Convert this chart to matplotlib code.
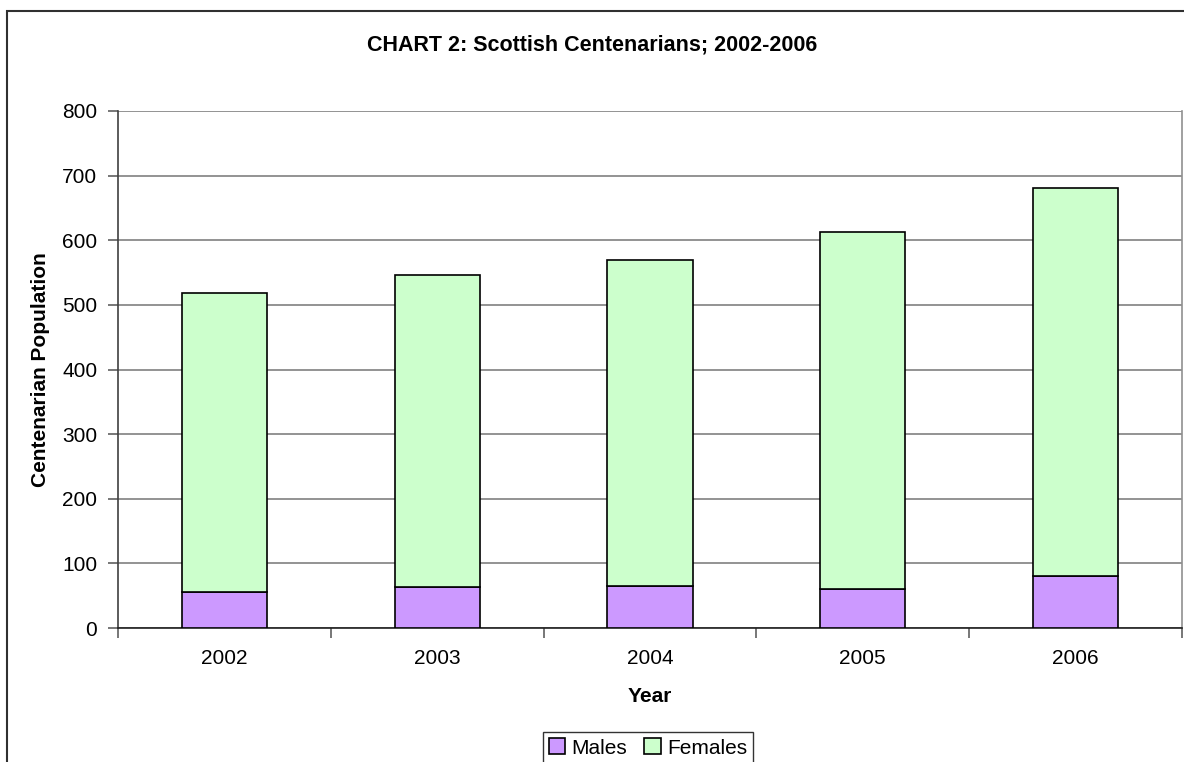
import matplotlib.pyplot as plt
import numpy as np
from matplotlib.patches import Rectangle

plt.rcParams['font.family'] = ['Liberation Sans', 'DejaVu Sans']

# Data
years = ['2002', '2003', '2004', '2005', '2006']
males = [56, 64, 65, 61, 80]
females = [462, 483, 505, 552, 601]

fig = plt.figure(figsize=(11.84, 7.62), dpi=100)
ax = fig.add_axes([118 / 1184, 134 / 762, 1064 / 1184, 517 / 762])

x = np.arange(len(years))
ax.bar(x, males, width=0.4, color='#CC99FF', edgecolor='black', linewidth=1.2,
       label='Males', zorder=3)
ax.bar(x, females, width=0.4, bottom=males, color='#CCFFCC', edgecolor='black',
       linewidth=1.2, label='Females', zorder=3)

ax.set_xlim(-0.5, len(years) - 0.5)
ax.set_ylim(0, 800)
ax.set_yticks(range(0, 801, 100))
ax.yaxis.grid(True, color='#808080', linewidth=1.2)
ax.set_axisbelow(True)

# category labels centred, tick marks on the category borders
ax.set_xticks(x)
ax.set_xticklabels(years)
ax.set_xticks(np.arange(-0.5, len(years)), minor=True)
ax.tick_params(axis='x', which='major', length=0, labelsize=15, pad=15)
ax.tick_params(axis='x', which='minor', length=7, width=1.2, color='#606060')
ax.tick_params(axis='y', length=7, width=1.2, color='#606060', labelsize=15, pad=8)

ax.spines['top'].set_visible(False)
ax.spines['right'].set_color('#909090')
ax.spines['left'].set_color('#404040')
ax.spines['bottom'].set_color('#202020')
for s in ax.spines.values():
    s.set_linewidth(1.2)

ax.set_xlabel('Year', fontsize=15, fontweight='bold', va='center')
ax.xaxis.set_label_coords(0.5, -69 / 517)
ax.set_ylabel('Centenarian Population', fontsize=15, fontweight='bold', va='center')
ax.yaxis.set_label_coords(-77 / 1064, 0.5)

fig.text(592 / 1184, 1 - 45 / 762, 'CHART 2: Scottish Centenarians; 2002-2006',
         ha='center', va='center', fontsize=15.5, fontweight='bold')

leg = fig.legend(loc='center', bbox_to_anchor=(648 / 1184, 1 - 748 / 762), ncol=2,
                 fontsize=15, frameon=True, fancybox=False, edgecolor='black',
                 handlelength=0.8, handleheight=0.8, handletextpad=0.3,
                 columnspacing=0.8, borderpad=0.3)
leg.get_frame().set_linewidth(1.0)

# outer chart frame
fig.patches.append(Rectangle((6.5 / 1184, -0.1), 1.2, 1 - 10.5 / 762 + 0.1,
                             transform=fig.transFigure, fill=False,
                             edgecolor='#303030', linewidth=1.5))

fig.savefig('out.png', dpi=100)
